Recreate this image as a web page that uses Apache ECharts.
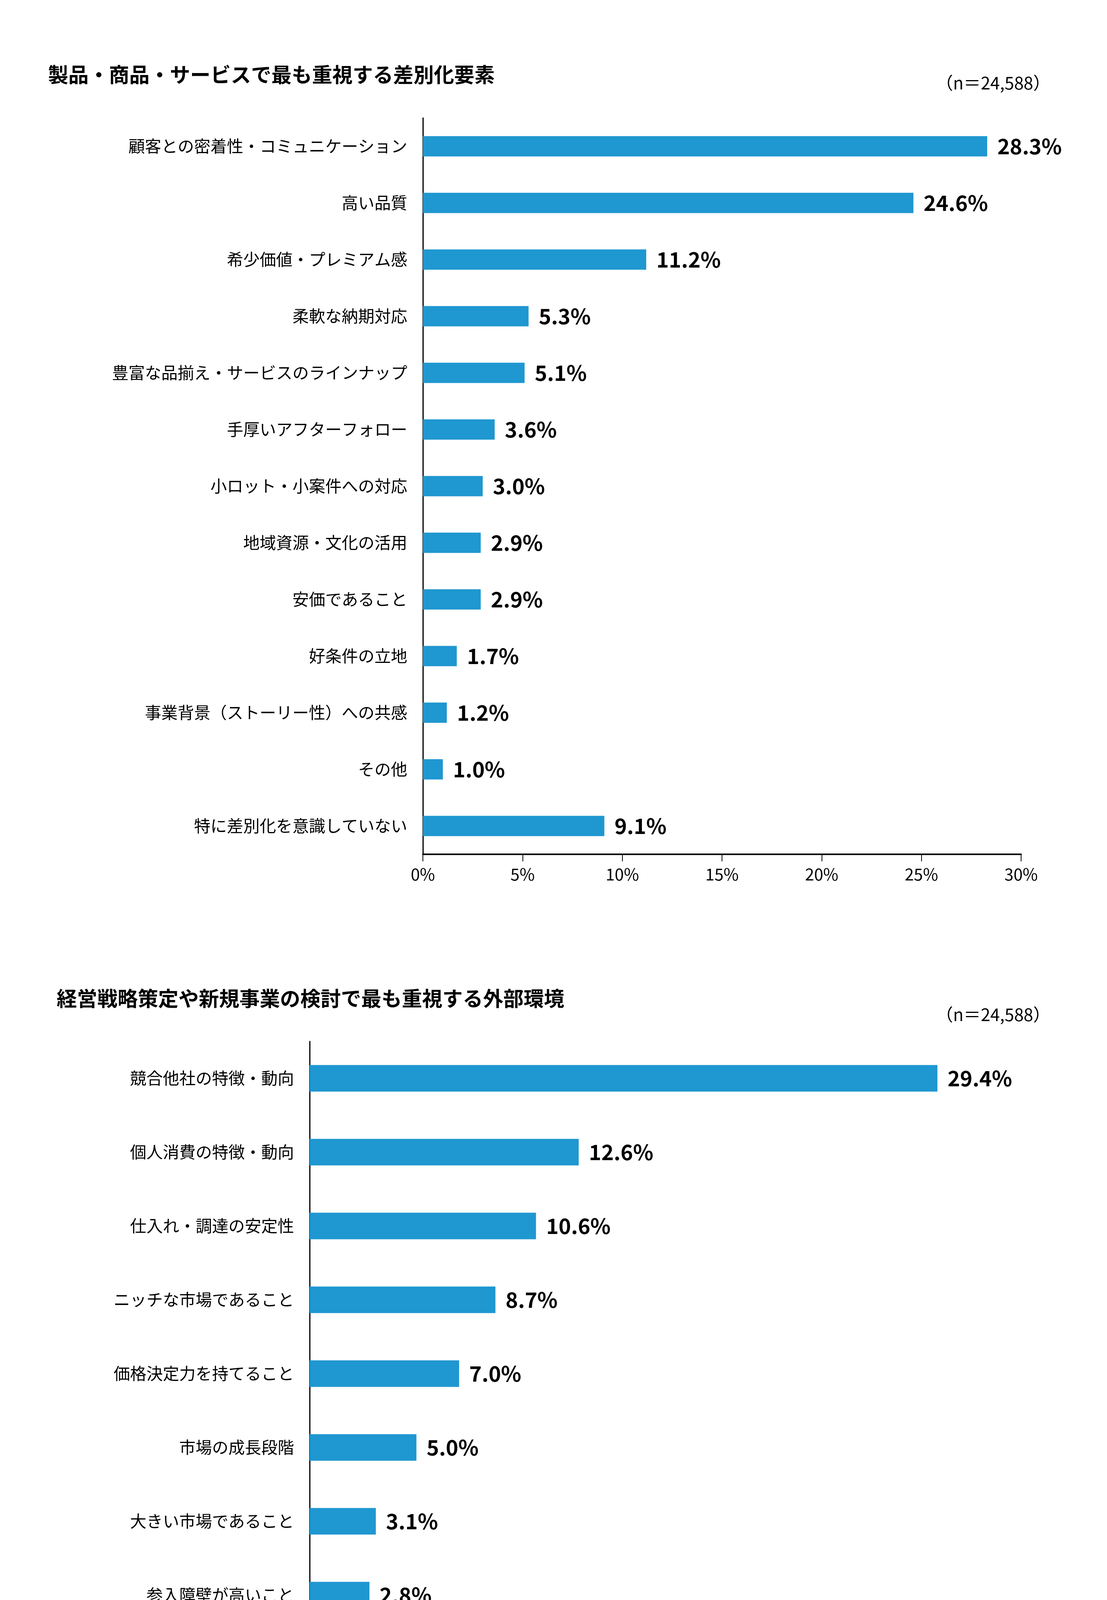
<!DOCTYPE html>
<html><head><meta charset="utf-8">
<script src="https://cdn.jsdelivr.net/npm/echarts@6/dist/echarts.min.js"></script>
<style>html,body{margin:0;background:#fff}#c{width:2835px;height:5306px}</style>
</head><body><div id="c"></div>
<script>
var cats1 = ['顧客との密着性・コミュニケーション','高い品質','希少価値・プレミアム感','柔軟な納期対応','豊富な品揃え・サービスのラインナップ','手厚いアフターフォロー','小ロット・小案件への対応','地域資源・文化の活用','安価であること','好条件の立地','事業背景（ストーリー性）への共感','その他','特に差別化を意識していない'];
var vals1 = [28.3,24.6,11.2,5.3,5.1,3.6,3.0,2.9,2.9,1.7,1.2,1.0,9.1];
var cats2 = ['競合他社の特徴・動向','個人消費の特徴・動向','仕入れ・調達の安定性','ニッチな市場であること','価格決定力を持てること','市場の成長段階','大きい市場であること','参入障壁が高いこと','環境問題対応の影響を受けるか','代替品が現れるリスク','その他','特に外部環境は重視していない'];
var vals2 = [29.4,12.6,10.6,8.7,7.0,5.0,3.1,2.8,1.0,0.7,0.9,18.2];
var title1 = '製品・商品・サービスで最も重視する差別化要素';
var title2 = '経営戦略策定や新規事業の検討で最も重視する外部環境';
var font = '"Noto Sans CJK JP", sans-serif';

var chart = echarts.init(document.getElementById('c'));
function xAx(i, max){
  return {type:'value', gridIndex:i, min:0, max:max, interval:5,
    axisLine:{show:true, lineStyle:{color:'#000', width:4}},
    axisTick:{show:true, length:18, lineStyle:{color:'#000', width:2}},
    splitLine:{show:false},
    axisLabel:{formatter:'{value}%', fontSize:42, color:'#000', margin:30, fontFamily:font}};
}
function yAx(i, cats){
  return {type:'category', gridIndex:i, data:cats, inverse:true,
    axisLine:{show:true, lineStyle:{color:'#000', width:3}},
    axisTick:{show:false},
    axisLabel:{fontSize:42, color:'#000', margin:40, fontFamily:font}};
}
function ser(i, vals, bw){
  return {type:'bar', xAxisIndex:i, yAxisIndex:i, data:vals, barWidth:bw,
    itemStyle:{color:'#1f97d0'},
    label:{show:true, position:'right', distance:26, formatter:function(p){return p.value.toFixed(1)+'%';},
      fontSize:54, fontWeight:'bold', color:'#000', fontFamily:font}};
}
chart.setOption({
  animation:false,
  backgroundColor:'#fff',
  textStyle:{fontFamily:font},
  title:[
    {text:title1, left:118, top:160, textStyle:{fontSize:52, fontWeight:'bold', color:'#000', fontFamily:font}},
    {text:'（n＝24,588）', right:140, top:185, textStyle:{fontSize:44, fontWeight:'normal', color:'#000', fontFamily:font}},
    {text:title2, left:140, top:2525, textStyle:{fontSize:52, fontWeight:'bold', color:'#000', fontFamily:font}},
    {text:'（n＝24,588）', right:140, top:2570, textStyle:{fontSize:44, fontWeight:'normal', color:'#000', fontFamily:font}},
    {text:'出所：（株）帝国データバンク「令和６年度中小企業の経営課題と事業活動に関する調査」', right:90, top:5180, textStyle:{fontSize:44, fontWeight:'bold', color:'#000', fontFamily:font}}
  ],
  grid:[
    {left:1083, width:1532, top:302, height:1885},
    {left:793, width:1914, top:2666, height:2268}
  ],
  xAxis:[xAx(0,30), xAx(1,35)],
  yAxis:[yAx(0,cats1), yAx(1,cats2)],
  series:[ser(0,vals1,52), ser(1,vals2,68)]
});
</script></body></html>
